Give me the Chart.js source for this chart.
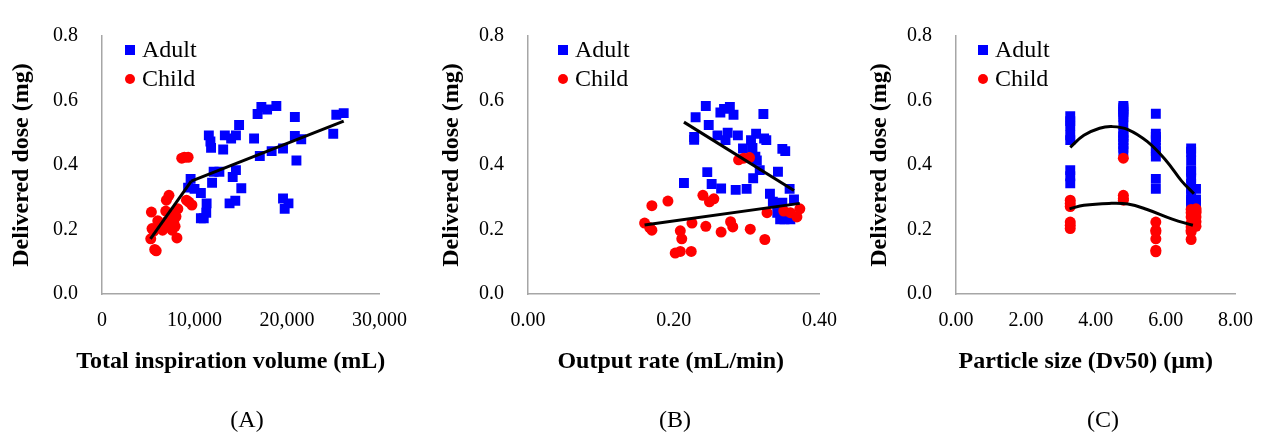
<!DOCTYPE html>
<html lang="en">
<head>
  <meta charset="UTF-8">
  <title>Delivered dose</title>
  <script src="https://cdn.jsdelivr.net/npm/chart.js"></script>
  <style>
    body { margin: 0; background: #fff; }
    #wrap { position: relative; width: 1268px; height: 432px; overflow: hidden; }
    canvas { position: absolute; top: 0; }
    .cap { position: absolute; top: 406px; width: 80px; margin-left: -40px; text-align: center;
           font: 24px "Liberation Serif", serif; color: #000; }
  </style>
</head>
<body>
<div id="wrap">
  <canvas id="panelA" width="422" height="432" style="left:0px"></canvas>
  <canvas id="panelB" width="426" height="432" style="left:426px"></canvas>
  <canvas id="panelC" width="414" height="432" style="left:854px"></canvas>
  <div class="cap" style="left:247px">(A)</div>
  <div class="cap" style="left:675px">(B)</div>
  <div class="cap" style="left:1103px">(C)</div>
</div>
<script>
  // tick labels
  const doseTicks = [0, 0.2, 0.4, 0.6, 0.8];
  const volumeTicks = [0, 10000, 20000, 30000];
  const rateTicks = [0, 0.2, 0.4];
  const sizeTicks = [0, 2, 4, 6, 8];

  // (A) total inspiration volume vs delivered dose
  const adultVolume = [9580, 9310, 10000, 10690, 11310, 11270, 10690, 11000, 11900, 12070, 12690, 11550, 11720, 11790,
    13100, 13280, 13960, 14480, 14820, 14480, 14130, 15060, 13790, 14410, 16440, 17060, 16820, 17230, 17850, 18850,
    18340, 19570, 20850, 20850, 21020, 21540, 19570, 20160, 19750, 25000, 25330, 26130];
  const adultDoseA = [0.357, 0.330, 0.326, 0.313, 0.281, 0.252, 0.235, 0.235, 0.345, 0.379, 0.379, 0.492, 0.473, 0.453,
    0.448, 0.492, 0.482, 0.492, 0.524, 0.384, 0.363, 0.328, 0.281, 0.289, 0.482, 0.428, 0.558, 0.580, 0.572, 0.583,
    0.443, 0.451, 0.549, 0.490, 0.414, 0.480, 0.296, 0.281, 0.264, 0.497, 0.556, 0.561];
  const childVolume = [5340, 5410, 5270, 5860, 5700, 6030, 6890, 7240, 6960, 7580, 7240, 7760, 7580, 8100, 8200, 8620,
    9310, 8900, 9130, 9720, 6550, 6200, 7000, 7400, 7900, 8000, 5600, 6700, 9400];
  const childDoseA = [0.254, 0.203, 0.171, 0.134, 0.138, 0.227, 0.257, 0.306, 0.291, 0.237, 0.208, 0.223, 0.198, 0.174,
    0.264, 0.421, 0.424, 0.424, 0.291, 0.276, 0.198, 0.215, 0.225, 0.245, 0.210, 0.240, 0.195, 0.210, 0.285];
  const trendChildA = [[5240, 0.171], [9650, 0.350]];
  const trendAdultA = [[9650, 0.350], [26130, 0.536]];

  // (B) output rate vs delivered dose
  const adultRate = [0.244, 0.230, 0.248, 0.228, 0.228, 0.264, 0.269, 0.277, 0.282, 0.323, 0.260, 0.271, 0.274, 0.288,
    0.295, 0.306, 0.313, 0.324, 0.327, 0.308, 0.312, 0.314, 0.318, 0.309, 0.343, 0.349, 0.353, 0.246, 0.214, 0.252,
    0.265, 0.285, 0.300, 0.332, 0.359, 0.365, 0.336, 0.342, 0.349, 0.342, 0.346, 0.352, 0.360];
  const adultDoseB = [0.583, 0.548, 0.524, 0.487, 0.478, 0.563, 0.574, 0.580, 0.556, 0.558, 0.492, 0.477, 0.500, 0.492,
    0.451, 0.477, 0.497, 0.482, 0.477, 0.453, 0.426, 0.414, 0.384, 0.359, 0.379, 0.450, 0.443, 0.378, 0.344, 0.341,
    0.327, 0.323, 0.326, 0.311, 0.326, 0.293, 0.286, 0.281, 0.283, 0.252, 0.232, 0.232, 0.232];
  const childRate = [0.160, 0.170, 0.167, 0.170, 0.192, 0.209, 0.211, 0.202, 0.209, 0.224, 0.225, 0.240, 0.249, 0.255,
    0.244, 0.265, 0.278, 0.281, 0.289, 0.296, 0.304, 0.305, 0.325, 0.328, 0.351, 0.360, 0.369, 0.373];
  const childDoseB = [0.220, 0.198, 0.206, 0.274, 0.288, 0.196, 0.171, 0.127, 0.132, 0.132, 0.220, 0.306, 0.286, 0.295,
    0.210, 0.192, 0.224, 0.208, 0.416, 0.421, 0.423, 0.201, 0.169, 0.252, 0.257, 0.252, 0.239, 0.264];
  const trendAdultB = [[0.214, 0.533], [0.365, 0.321]];
  const trendChildB = [[0.160, 0.214], [0.373, 0.281]];

  // (C) particle size vs delivered dose
  const adultSize = [3.27, 3.27, 3.27, 3.27, 3.27, 3.27, 3.27, 3.27,
    4.79, 4.79, 4.79, 4.79, 4.79, 4.79, 4.79, 4.79, 4.79, 4.79, 4.79, 4.79, 4.79, 4.79,
    5.72, 5.72, 5.72, 5.72, 5.72, 5.72, 5.72, 5.72, 5.72,
    6.73, 6.73, 6.73, 6.73, 6.73, 6.73, 6.73, 6.73, 6.73, 6.73, 6.73, 6.73, 6.73,
    6.87, 6.87, 6.87, 6.87, 6.87];
  const adultDoseC = [0.551, 0.536, 0.521, 0.492, 0.477, 0.384, 0.365, 0.343,
    0.583, 0.578, 0.572, 0.565, 0.556, 0.548, 0.524, 0.500, 0.492, 0.487, 0.477, 0.465, 0.453, 0.443,
    0.559, 0.497, 0.487, 0.477, 0.453, 0.443, 0.426, 0.357, 0.326,
    0.451, 0.441, 0.414, 0.384, 0.379, 0.359, 0.341, 0.326, 0.311, 0.293, 0.286, 0.281, 0.252,
    0.326, 0.293, 0.283, 0.252, 0.232];
  const childSize = [3.27, 3.27, 3.27, 3.27, 3.27, 3.27,
    4.79, 4.79, 4.79, 4.79,
    5.72, 5.72, 5.72, 5.72, 5.72, 5.72,
    6.73, 6.73, 6.73, 6.73, 6.73, 6.73, 6.73, 6.73,
    6.87, 6.87, 6.87, 6.87, 6.87, 6.87];
  const childDoseC = [0.291, 0.281, 0.271, 0.223, 0.213, 0.203,
    0.421, 0.306, 0.296, 0.291,
    0.223, 0.198, 0.193, 0.171, 0.136, 0.131,
    0.262, 0.252, 0.239, 0.220, 0.208, 0.198, 0.192, 0.169,
    0.264, 0.257, 0.252, 0.239, 0.224, 0.210];
  const trendAdultC = [[3.27, 0.455], [3.66, 0.492], [4.11, 0.514], [4.47, 0.519], [4.92, 0.510],
    [5.47, 0.473], [6.01, 0.414], [6.46, 0.350], [6.81, 0.311]];
  const trendChildC = [[3.25, 0.264], [3.66, 0.275], [4.38, 0.281], [4.92, 0.279], [5.47, 0.262],
    [6.19, 0.232], [6.78, 0.213]];

  const serif = '"Liberation Serif", "Times New Roman", serif';
  const axisGrey = '#a6a6a6';

  const toPoints = (xs, ys) => xs.map((x, i) => ({ x: x, y: ys[i] }));
  const toLine = pairs => pairs.map(p => ({ x: p[0], y: p[1] }));

  // legend inside the plot (top-left) + x title that may run wider than the plot
  const panelText = {
    id: 'panelText',
    afterDraw(chart, args, opts) {
      const ctx = chart.ctx;
      const a = chart.chartArea;
      const x = a.left + opts.dx;
      ctx.save();
      ctx.fillStyle = '#0000ff';
      ctx.fillRect(x - 5, a.top + 14 - 5, 10, 10);
      ctx.fillStyle = '#ff0000';
      ctx.beginPath();
      ctx.arc(x, a.top + 43, 5, 0, Math.PI * 2);
      ctx.fill();
      ctx.fillStyle = '#000';
      ctx.font = '24px ' + serif;
      ctx.textBaseline = 'middle';
      ctx.fillText('Adult', x + 12, a.top + 15);
      ctx.fillText('Child', x + 12, a.top + 44);
      ctx.font = 'bold 24px ' + serif;
      ctx.textAlign = 'center';
      ctx.fillText(opts.xTitle, (a.left + a.right) / 2 + opts.titleDx, 362);
      ctx.restore();
    }
  };

  function makePanel(id, cfg) {
    const trend = (pts, tension) => ({
      data: toLine(pts), showLine: true, pointRadius: 0, borderColor: '#000',
      borderWidth: 3, tension: tension || 0, fill: false
    });
    new Chart(document.getElementById(id), {
      type: 'scatter',
      data: {
        datasets: [
          trend(cfg.trendAdult, cfg.tension),
          trend(cfg.trendChild, cfg.tension),
          { label: 'Child', data: cfg.child, pointStyle: 'circle', pointRadius: 5.5,
            backgroundColor: '#ff0000', borderColor: '#ff0000', borderWidth: 0 },
          { label: 'Adult', data: cfg.adult, pointStyle: 'rect', pointRadius: 7,
            backgroundColor: '#0000ff', borderColor: '#0000ff', borderWidth: 0 }
        ]
      },
      options: {
        responsive: false,
        animation: false,
        layout: { padding: { top: 22, right: cfg.padRight, left: 0, bottom: 0 } },
        plugins: {
          legend: { display: false },
          tooltip: { enabled: false },
          panelText: { dx: cfg.legendDx, xTitle: cfg.xTitle, titleDx: cfg.titleDx }
        },
        scales: {
          x: {
            type: 'linear', min: cfg.xTicks[0], max: cfg.xTicks[cfg.xTicks.length - 1],
            afterBuildTicks: s => { s.ticks = cfg.xTicks.map(v => ({ value: v })); },
            afterFit: s => { s.height = 138; },
            grid: { display: false, drawTicks: false },
            border: { display: true, color: axisGrey, width: 1.5 },
            ticks: { padding: 15, maxRotation: 0, autoSkip: false, color: '#000',
                     font: { family: serif, size: 20 }, callback: cfg.xFormat },
            title: { display: false }
          },
          y: {
            type: 'linear', min: 0, max: 0.8,
            afterBuildTicks: s => { s.ticks = doseTicks.map(v => ({ value: v })); },
            afterFit: s => { s.width = 102; },
            grid: { display: false, drawTicks: false },
            border: { display: true, color: axisGrey, width: 1.5 },
            ticks: { padding: 24, color: '#000', font: { family: serif, size: 20 },
                     callback: v => Number(v).toFixed(1) },
            title: { display: true, text: 'Delivered dose (mg)', color: '#000',
                     font: { family: serif, size: 24, weight: 'bold' }, padding: { top: cfg.yTitlePad, bottom: 0 } }
          }
        }
      },
      plugins: [panelText]
    });
  }

  makePanel('panelA', {
    adult: toPoints(adultVolume, adultDoseA), child: toPoints(childVolume, childDoseA),
    trendAdult: trendAdultA, trendChild: trendChildA,
    xTicks: volumeTicks, xFormat: v => Number(v).toLocaleString('en-US'),
    xTitle: 'Total inspiration volume (mL)', titleDx: -10, padRight: 30, legendDx: 28, yTitlePad: 7
  });
  makePanel('panelB', {
    adult: toPoints(adultRate, adultDoseB), child: toPoints(childRate, childDoseB),
    trendAdult: trendAdultB, trendChild: trendChildB,
    xTicks: rateTicks, xFormat: v => Number(v).toFixed(2),
    xTitle: 'Output rate (mL/min)', titleDx: -3, padRight: 30, legendDx: 35, yTitlePad: 11
  });
  makePanel('panelC', {
    adult: toPoints(adultSize, adultDoseC), child: toPoints(childSize, childDoseC),
    trendAdult: trendAdultC, trendChild: trendChildC, tension: 0.4,
    xTicks: sizeTicks, xFormat: v => Number(v).toFixed(2),
    xTitle: 'Particle size (Dv50) (\u00b5m)', titleDx: -10, padRight: 17, legendDx: 27, yTitlePad: 11
  });
</script>
</body>
</html>
